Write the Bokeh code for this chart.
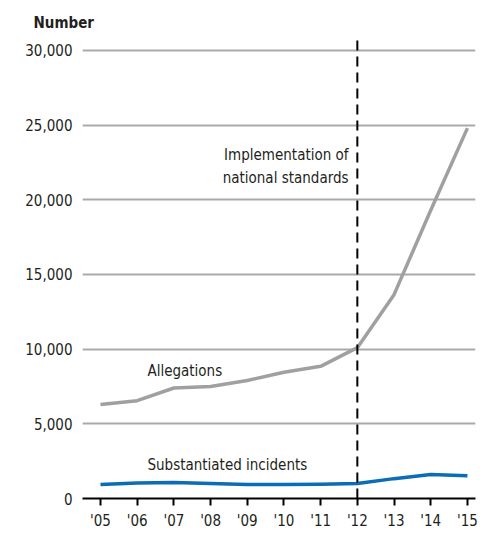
from bokeh.plotting import figure
from bokeh.models import Range1d, FixedTicker, Label
from bokeh.embed import file_html
from bokeh.resources import INLINE

years = [2005, 2006, 2007, 2008, 2009, 2010, 2011, 2012, 2013, 2014, 2015]
year_labels = ["'05", "'06", "'07", "'08", "'09", "'10", "'11", "'12", "'13", "'14", "'15"]
allegations = [6300, 6550, 7400, 7500, 7900, 8450, 8850, 10100, 13650, 19300, 24800]
substantiated = [930, 1040, 1070, 1000, 940, 940, 950, 1000, 1330, 1600, 1520]
y_ticks = [0, 5000, 10000, 15000, 20000, 25000, 30000]
y_tick_labels = ["0", "5,000", "10,000", "15,000", "20,000", "25,000", "30,000"]
standards_year = 2012

FONT = "DejaVu Sans Condensed"
FS = "15px"
TXT = "#231f20"

p = figure(width=483, height=532, output_backend="svg", toolbar_location=None,
           x_range=Range1d(2004.51, 2015.22), y_range=Range1d(0, 30800),
           min_border_left=82, min_border_right=8, min_border_top=38, min_border_bottom=34)
p.outline_line_color = None
p.background_fill_color = "white"

p.title.text = "Number"
p.title.align = "left"
p.title.offset = -49
p.title.text_font = FONT
p.title.text_font_size = FS
p.title.text_font_style = "bold"
p.title.text_color = TXT
p.title.standoff = 13

# y axis: labels only
p.yaxis.ticker = FixedTicker(ticks=y_ticks)
p.yaxis.major_label_overrides = {t: l for t, l in zip(y_ticks, y_tick_labels)}
p.yaxis.axis_line_color = None
p.yaxis.major_tick_line_color = None
p.yaxis.minor_tick_line_color = None
p.yaxis.major_label_text_font = FONT
p.yaxis.major_label_text_font_size = FS
p.yaxis.major_label_text_color = TXT
p.yaxis.major_label_standoff = 4

# x axis
p.xaxis.ticker = FixedTicker(ticks=years)
p.xaxis.major_label_overrides = {y: l for y, l in zip(years, year_labels)}
p.xaxis.axis_line_color = "black"
p.xaxis.axis_line_width = 2
p.xaxis.major_tick_line_color = "black"
p.xaxis.major_tick_line_width = 2
p.xaxis.major_tick_in = 0
p.xaxis.major_tick_out = 7
p.xaxis.minor_tick_line_color = None
p.xaxis.major_label_text_font = FONT
p.xaxis.major_label_text_font_size = FS
p.xaxis.major_label_text_color = TXT
p.xaxis.major_label_standoff = 6

p.xgrid.grid_line_color = None
p.ygrid.ticker = FixedTicker(ticks=y_ticks)
p.ygrid.grid_line_color = "#a7a9ac"
p.ygrid.grid_line_width = 2

# lines
p.line(years, allegations, line_color="#a0a0a2", line_width=3.5, line_join="round")
p.line(years, substantiated, line_color="#0b6db5", line_width=3.5, line_join="round")

# dashed reference line
p.segment(x0=[standards_year], y0=[0], x1=[standards_year], y1=[30800],
          line_color="black", line_width=2, line_dash="10 6")

def lab(x, y, t, align="left"):
    p.add_layout(Label(x=x, y=y, text=t, text_font=FONT, text_font_size=FS,
                       text_color=TXT, text_align=align, text_baseline="middle"))

lab(2011.76, 22970, "Implementation of", align="right")
lab(2011.76, 21430, "national standards", align="right")
lab(2006.28, 8570, "Allegations")
lab(2006.28, 2210, "Substantiated incidents")

open("out.html", "w").write(file_html(p, INLINE))
